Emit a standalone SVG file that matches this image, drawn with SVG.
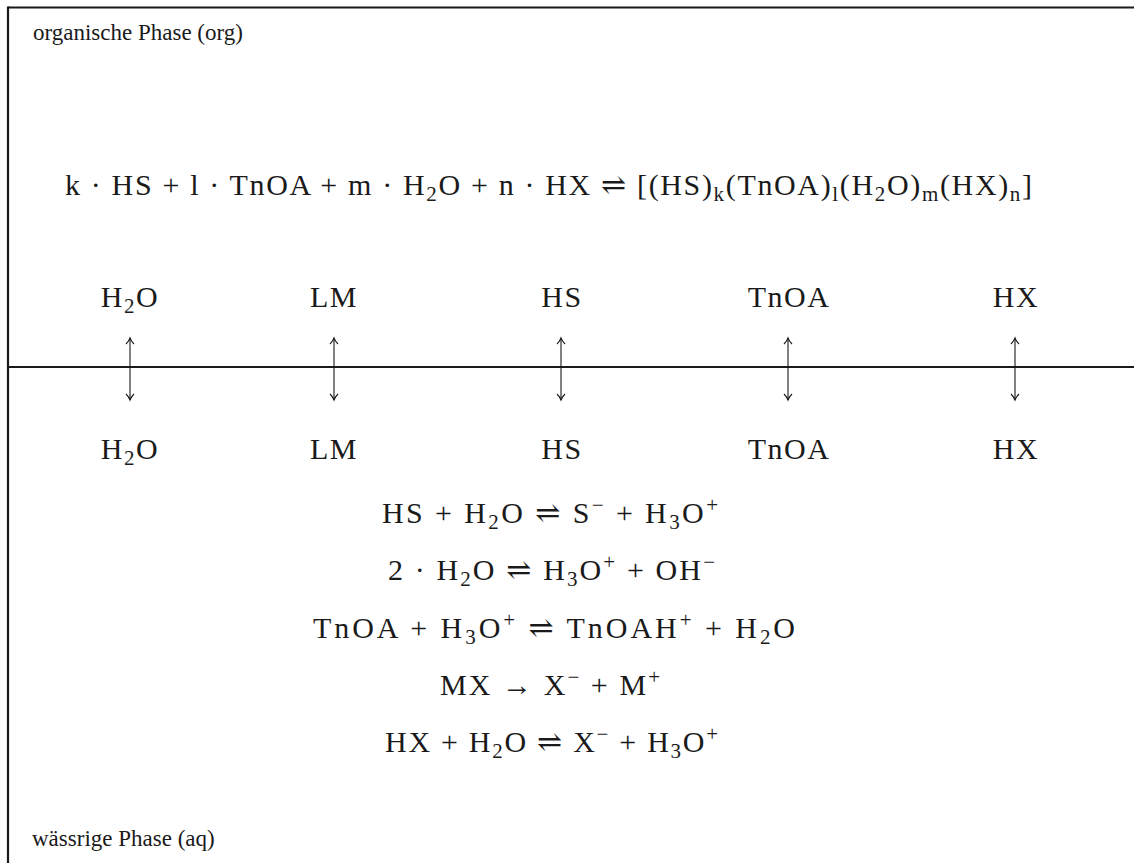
<svg xmlns="http://www.w3.org/2000/svg" width="1134" height="863" viewBox="0 0 1134 863">
<defs>
<style>
text{font-family:"Liberation Serif","DejaVu Serif",serif;font-size:30px;fill:#1a1a1a}
.ph{font-size:23px}
.lb{letter-spacing:1.5px}
.s{font-size:21px}
.frame{stroke:#1a1a1a;stroke-width:2.2;fill:none}
.conn line{stroke:#1a1a1a;stroke-width:1.1}
.conn path{stroke:#1a1a1a;stroke-width:1.1;fill:none}
</style>
</defs>
<rect x="0" y="0" width="1134" height="863" fill="#ffffff"/>
<g id="frame">
<line class="frame" x1="8" y1="7.5" x2="1134" y2="7.5"/>
<line class="frame" x1="8" y1="6.5" x2="8" y2="863"/>
<line class="frame" x1="8" y1="367" x2="1134" y2="367"/>
</g>
<g id="org-label"><text class="ph" x="33" y="40">organische Phase (org)</text></g>
<g id="org-reaction"><text x="65" y="195" textLength="967" lengthAdjust="spacing">k · HS + l · TnOA + m · H<tspan class="s" dy="6">2</tspan><tspan dy="-6">O + n · HX ⇌ [(HS)</tspan><tspan class="s" dy="6">k</tspan><tspan dy="-6">(TnOA)</tspan><tspan class="s" dy="6">l</tspan><tspan dy="-6">(H</tspan><tspan class="s" dy="6">2</tspan><tspan dy="-6">O)</tspan><tspan class="s" dy="6">m</tspan><tspan dy="-6">(HX)</tspan><tspan class="s" dy="6">n</tspan><tspan dy="-6">]</tspan></text></g>
<g id="org-h2o"><text class="lb" x="130" y="307" text-anchor="middle">H<tspan class="s" dy="6">2</tspan><tspan dy="-6">O</tspan></text></g>
<g id="org-lm"><text class="lb" x="334" y="307" text-anchor="middle">LM</text></g>
<g id="org-hs"><text class="lb" x="562" y="307" text-anchor="middle">HS</text></g>
<g id="org-tnoa"><text class="lb" x="789" y="307" text-anchor="middle" letter-spacing="3">TnOA</text></g>
<g id="org-hx"><text class="lb" x="1016" y="307" text-anchor="middle">HX</text></g>
<g id="aq-h2o"><text class="lb" x="130" y="459" text-anchor="middle">H<tspan class="s" dy="6">2</tspan><tspan dy="-6">O</tspan></text></g>
<g id="aq-lm"><text class="lb" x="334" y="459" text-anchor="middle">LM</text></g>
<g id="aq-hs"><text class="lb" x="562" y="459" text-anchor="middle">HS</text></g>
<g id="aq-tnoa"><text class="lb" x="789" y="459" text-anchor="middle" letter-spacing="3">TnOA</text></g>
<g id="aq-hx"><text class="lb" x="1016" y="459" text-anchor="middle">HX</text></g>
<g id="connectors" class="conn">
<line x1="130" y1="338" x2="130" y2="400"/>
<path d="M126,344 Q129,341 130,338 Q131,341 134,344 M126,394 Q129,397 130,400 Q131,397 134,394"/>
<line x1="334" y1="338" x2="334" y2="400"/>
<path d="M330,344 Q333,341 334,338 Q335,341 338,344 M330,394 Q333,397 334,400 Q335,397 338,394"/>
<line x1="561" y1="338" x2="561" y2="400"/>
<path d="M557,344 Q560,341 561,338 Q562,341 565,344 M557,394 Q560,397 561,400 Q562,397 565,394"/>
<line x1="788" y1="338" x2="788" y2="400"/>
<path d="M784,344 Q787,341 788,338 Q789,341 792,344 M784,394 Q787,397 788,400 Q789,397 792,394"/>
<line x1="1015" y1="338" x2="1015" y2="400"/>
<path d="M1011,344 Q1014,341 1015,338 Q1016,341 1019,344 M1011,394 Q1014,397 1015,400 Q1016,397 1019,394"/>
</g>
<g id="aq-reactions">
<text x="382" y="523" textLength="336" lengthAdjust="spacing">HS + H<tspan class="s" dy="6">2</tspan><tspan dy="-6">O ⇌ S</tspan><tspan class="s" dy="-11">−</tspan><tspan dy="11"> + H</tspan><tspan class="s" dy="6">3</tspan><tspan dy="-6">O</tspan><tspan class="s" dy="-11">+</tspan></text>
<text x="388" y="580" textLength="327" lengthAdjust="spacing">2 · H<tspan class="s" dy="6">2</tspan><tspan dy="-6">O ⇌ H</tspan><tspan class="s" dy="6">3</tspan><tspan dy="-6">O</tspan><tspan class="s" dy="-11">+</tspan><tspan dy="11"> + OH</tspan><tspan class="s" dy="-11">−</tspan></text>
<text x="313" y="638" textLength="482" lengthAdjust="spacing">TnOA + H<tspan class="s" dy="6">3</tspan><tspan dy="-6">O</tspan><tspan class="s" dy="-11">+</tspan><tspan dy="11"> ⇌ TnOAH</tspan><tspan class="s" dy="-11">+</tspan><tspan dy="11"> + H</tspan><tspan class="s" dy="6">2</tspan><tspan dy="-6">O</tspan></text>
<text x="440" y="695" textLength="220" lengthAdjust="spacing">MX → X<tspan class="s" dy="-11">−</tspan><tspan dy="11"> + M</tspan><tspan class="s" dy="-11">+</tspan></text>
<text x="385" y="752" textLength="333" lengthAdjust="spacing">HX + H<tspan class="s" dy="6">2</tspan><tspan dy="-6">O ⇌ X</tspan><tspan class="s" dy="-11">−</tspan><tspan dy="11"> + H</tspan><tspan class="s" dy="6">3</tspan><tspan dy="-6">O</tspan><tspan class="s" dy="-11">+</tspan></text>
</g>
<g id="aq-label"><text class="ph" x="32" y="846">wässrige Phase (aq)</text></g>
</svg>
